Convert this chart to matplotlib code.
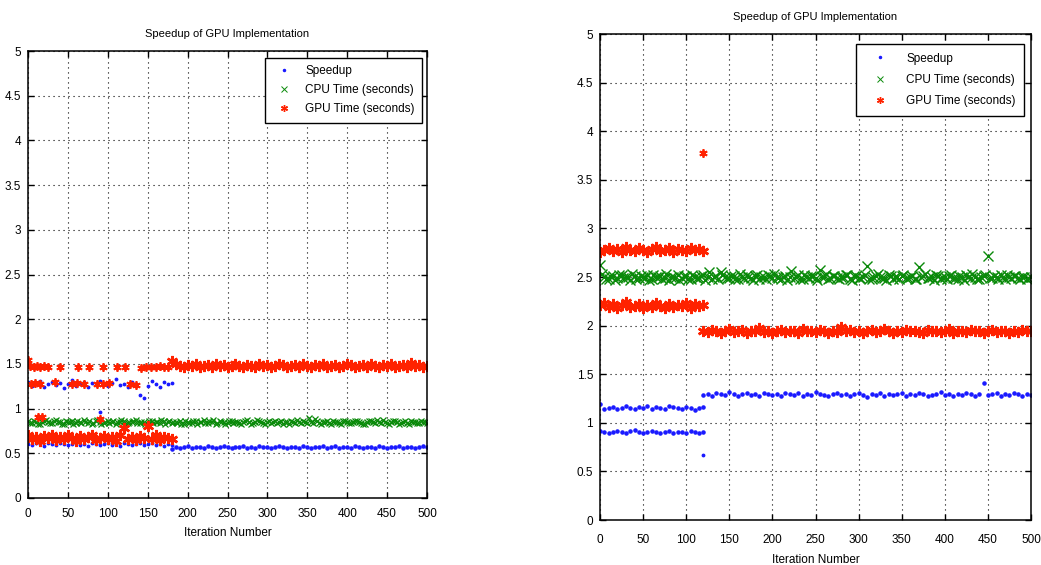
import numpy as np
import matplotlib.pyplot as plt

# ---------------------------------------------------------
# LEFT PANEL DATA (sampled every 5 iterations)
# ---------------------------------------------------------
L_ITER_ALL = list(range(0, 501, 5))
L_ITER_ALL2 = list(range(2, 500, 5))
L_ITER_A = list(range(0, 181, 5))
L_ITER_B = list(range(180, 501, 5))

L_CPU = [0.86, 0.84, 0.85, 0.83, 0.86, 0.85, 0.84, 0.87, 0.85, 0.83,
         0.85, 0.86, 0.84, 0.85, 0.87, 0.84, 0.83, 0.86, 0.85, 0.84,
         0.86, 0.85, 0.83, 0.85, 0.86, 0.84, 0.85, 0.87, 0.84, 0.85,
         0.83, 0.86, 0.85, 0.84, 0.86, 0.85, 0.84, 0.85, 0.86, 0.83,
         0.85, 0.84, 0.86, 0.85, 0.87, 0.84, 0.85, 0.83, 0.86, 0.85,
         0.84, 0.86, 0.85, 0.84, 0.85, 0.87, 0.83, 0.85, 0.86, 0.84,
         0.85, 0.84, 0.86, 0.85, 0.83, 0.85, 0.86, 0.84, 0.85, 0.86,
         0.84, 0.85, 0.88, 0.84, 0.85, 0.86, 0.83, 0.85, 0.84, 0.86,
         0.85, 0.84, 0.86, 0.85, 0.83, 0.85, 0.86, 0.84, 0.85, 0.87,
         0.84, 0.85, 0.86, 0.83, 0.85, 0.84, 0.86, 0.85, 0.84, 0.85, 0.84]
L_CPU2 = [0.84, 0.86, 0.83, 0.85, 0.87, 0.84, 0.86, 0.85, 0.83, 0.86,
          0.85, 0.83, 0.86, 0.84, 0.85, 0.86, 0.84, 0.87, 0.83, 0.85,
          0.84, 0.86, 0.85, 0.87, 0.83, 0.85, 0.86, 0.84, 0.85, 0.83,
          0.86, 0.84, 0.85, 0.87, 0.83, 0.86, 0.85, 0.84, 0.83, 0.86,
          0.84, 0.86, 0.83, 0.85, 0.84, 0.86, 0.87, 0.84, 0.85, 0.83,
          0.86, 0.84, 0.85, 0.83, 0.86, 0.85, 0.84, 0.87, 0.85, 0.83,
          0.86, 0.85, 0.84, 0.86, 0.85, 0.83, 0.85, 0.87, 0.84, 0.85,
          0.89, 0.84, 0.86, 0.83, 0.85, 0.84, 0.86, 0.85, 0.83, 0.86,
          0.84, 0.85, 0.86, 0.84, 0.83, 0.86, 0.85, 0.87, 0.84, 0.85,
          0.83, 0.86, 0.85, 0.84, 0.86, 0.83, 0.85, 0.84, 0.86, 0.85]

L_GPU_LO = [0.70, 0.66, 0.68, 0.64, 0.69, 0.67, 0.71, 0.65, 0.68, 0.66,
            0.70, 0.67, 0.64, 0.69, 0.66, 0.68, 0.71, 0.65, 0.67, 0.69,
            0.66, 0.68, 0.64, 0.70, 0.78, 0.66, 0.68, 0.65, 0.69, 0.67,
            0.80, 0.66, 0.70, 0.65, 0.68, 0.67, 0.66]

L_GPU_HI = [1.53, 1.50, 1.48, 1.47, 1.49, 1.48, 1.50, 1.47, 1.48, 1.49,
            1.47, 1.50, 1.48, 1.49, 1.47, 1.48, 1.50, 1.48, 1.47, 1.49,
            1.48, 1.47, 1.50, 1.48, 1.49, 1.47, 1.48, 1.50, 1.49, 1.47,
            1.48, 1.49, 1.47, 1.50, 1.48, 1.47, 1.49, 1.48, 1.50, 1.47,
            1.48, 1.49, 1.47, 1.48, 1.50, 1.49, 1.47, 1.48, 1.49, 1.47,
            1.50, 1.48, 1.47, 1.49, 1.48, 1.50, 1.47, 1.48, 1.49, 1.47,
            1.51, 1.48, 1.49, 1.47, 1.48]

# scattered GPU points in the first 180 iterations
L_GPU_UP_X = [0, 3, 7, 11, 15, 20, 25, 40, 63, 76, 94, 111, 122, 142, 148, 154, 160, 165, 170, 175]
L_GPU_UP_Y = [1.54, 1.48, 1.47, 1.48, 1.47, 1.48, 1.46, 1.46, 1.46, 1.47,
              1.46, 1.47, 1.46, 1.45, 1.46, 1.47, 1.46, 1.48, 1.47, 1.46]
L_GPU_MID_X = [4, 9, 15, 34, 55, 62, 70, 86, 94, 102, 128, 135]
L_GPU_MID_Y = [1.28, 1.29, 1.27, 1.30, 1.27, 1.29, 1.28, 1.28, 1.27, 1.29, 1.28, 1.26]
L_GPU_OUT_X = [13, 18, 90]
L_GPU_OUT_Y = [0.91, 0.91, 0.88]

L_SPD_UP = [1.30, 1.25, 1.28, 1.31, 1.24, 1.27, 1.30, 1.26, 1.29, 1.23,
            1.28, 1.32, 1.25, 1.27, 1.30, 1.24, 1.29, 1.26, 1.31, 1.27,
            1.25, 1.29, 1.33, 1.26, 1.28, 1.24, 1.30, 1.27, 1.15, 1.12,
            1.25, 1.31, 1.28, 1.24, 1.30, 1.27, 1.29]
L_SPD_LO0 = [0.60, 0.59, 0.61, 0.60, 0.58, 0.61, 0.60, 0.59, 0.61, 0.60,
             0.59, 0.60, 0.61, 0.59, 0.60, 0.58, 0.61, 0.60, 0.59, 0.60,
             0.61, 0.59, 0.60, 0.58, 0.61, 0.60, 0.59, 0.60, 0.61, 0.59,
             0.60, 0.61, 0.59, 0.60, 0.58, 0.60, 0.59]
L_SPD_LO1 = [0.55, 0.57, 0.56, 0.57, 0.58, 0.56, 0.57, 0.57, 0.56, 0.58,
             0.57, 0.56, 0.57, 0.58, 0.57, 0.56, 0.57, 0.57, 0.58, 0.56,
             0.57, 0.56, 0.58, 0.57, 0.57, 0.56, 0.57, 0.58, 0.57, 0.56,
             0.57, 0.57, 0.56, 0.58, 0.57, 0.56, 0.57, 0.57, 0.58, 0.56,
             0.57, 0.58, 0.56, 0.57, 0.57, 0.56, 0.58, 0.57, 0.56, 0.57,
             0.57, 0.56, 0.58, 0.57, 0.56, 0.57, 0.57, 0.58, 0.56, 0.57,
             0.57, 0.56, 0.57, 0.58, 0.57]
L_SPD_OUT_X = [90]
L_SPD_OUT_Y = [0.96]

# ---------------------------------------------------------
# RIGHT PANEL DATA (sampled every 5 iterations)
# ---------------------------------------------------------
R_ITER_ALL = list(range(0, 501, 5))
R_ITER_ALL2 = list(range(2, 500, 5))
R_ITER_A = list(range(0, 121, 5))
R_ITER_B = list(range(120, 501, 5))

R_CPU = [2.62, 2.50, 2.48, 2.51, 2.49, 2.52, 2.50, 2.47, 2.51, 2.49,
         2.50, 2.52, 2.48, 2.50, 2.51, 2.49, 2.47, 2.50, 2.52, 2.49,
         2.51, 2.48, 2.50, 2.49, 2.52, 2.50, 2.48, 2.51, 2.55, 2.50,
         2.49, 2.51, 2.48, 2.50, 2.52, 2.49, 2.51, 2.48, 2.50, 2.52,
         2.49, 2.50, 2.48, 2.51, 2.50, 2.49, 2.52, 2.48, 2.50, 2.51,
         2.49, 2.57, 2.50, 2.48, 2.51, 2.49, 2.50, 2.52, 2.48, 2.51,
         2.49, 2.50, 2.61, 2.48, 2.51, 2.50, 2.49, 2.52, 2.48, 2.50,
         2.51, 2.49, 2.50, 2.48, 2.60, 2.51, 2.49, 2.50, 2.52, 2.48,
         2.50, 2.51, 2.49, 2.48, 2.50, 2.52, 2.49, 2.50, 2.48, 2.51,
         2.72, 2.49, 2.50, 2.52, 2.48, 2.50, 2.51, 2.49, 2.50, 2.48, 2.50]
R_CPU2 = [2.53, 2.48, 2.51, 2.47, 2.52, 2.49, 2.50, 2.53, 2.48, 2.51,
          2.49, 2.47, 2.52, 2.50, 2.48, 2.53, 2.50, 2.49, 2.47, 2.51,
          2.48, 2.52, 2.49, 2.51, 2.47, 2.55, 2.50, 2.48, 2.52, 2.49,
          2.51, 2.48, 2.53, 2.49, 2.50, 2.47, 2.52, 2.50, 2.48, 2.51,
          2.53, 2.49, 2.50, 2.47, 2.56, 2.50, 2.48, 2.52, 2.49, 2.51,
          2.47, 2.50, 2.53, 2.49, 2.51, 2.48, 2.50, 2.52, 2.47, 2.51,
          2.49, 2.52, 2.48, 2.50, 2.53, 2.49, 2.47, 2.51, 2.50, 2.48,
          2.52, 2.49, 2.51, 2.48, 2.50, 2.53, 2.49, 2.47, 2.51, 2.50,
          2.48, 2.52, 2.49, 2.51, 2.47, 2.50, 2.53, 2.48, 2.50, 2.52,
          2.49, 2.51, 2.48, 2.50, 2.52, 2.49, 2.51, 2.48, 2.50, 2.49]

R_GPU_A = [2.76, 2.78, 2.80, 2.77, 2.79, 2.76, 2.81, 2.78, 2.77, 2.80,
           2.78, 2.76, 2.79, 2.81, 2.77, 2.78, 2.80, 2.76, 2.79, 2.78,
           2.77, 2.80, 2.78, 2.79, 2.77]
R_GPU_B = [2.21, 2.23, 2.19, 2.22, 2.18, 2.21, 2.24, 2.19, 2.20, 2.22,
           2.18, 2.21, 2.19, 2.23, 2.20, 2.18, 2.22, 2.19, 2.21, 2.20,
           2.23, 2.18, 2.22, 2.20, 2.21]
R_GPU_C = [1.95, 1.93, 1.96, 1.94, 1.92, 1.95, 1.97, 1.93, 1.94, 1.96,
           1.92, 1.95, 1.94, 1.98, 1.93, 1.95, 1.92, 1.94, 1.96, 1.93,
           1.95, 1.94, 1.92, 1.97, 1.94, 1.95, 1.93, 1.96, 1.94, 1.92,
           1.95, 1.93, 1.99, 1.94, 1.96, 1.93, 1.95, 1.92, 1.94, 1.96,
           1.93, 1.95, 1.97, 1.94, 1.92, 1.95, 1.93, 1.96, 1.94, 1.95,
           1.93, 1.92, 1.96, 1.94, 1.95, 1.93, 1.94, 1.97, 1.92, 1.95,
           1.94, 1.93, 1.96, 1.94, 1.95, 1.92, 1.94, 1.96, 1.93, 1.95,
           1.94, 1.92, 1.95, 1.93, 1.96, 1.94, 1.94]
R_GPU_OUT_X = [120]
R_GPU_OUT_Y = [3.78]

R_SPD_A = [1.19, 1.14, 1.15, 1.16, 1.14, 1.15, 1.17, 1.15, 1.14, 1.16,
           1.15, 1.17, 1.14, 1.16, 1.15, 1.14, 1.17, 1.16, 1.15, 1.14,
           1.16, 1.15, 1.13, 1.15, 1.16]
R_SPD_B = [0.92, 0.91, 0.90, 0.91, 0.92, 0.91, 0.90, 0.92, 0.93, 0.91,
           0.90, 0.91, 0.92, 0.91, 0.90, 0.91, 0.92, 0.90, 0.91, 0.91,
           0.90, 0.92, 0.91, 0.90, 0.91]
R_SPD_C = [1.29, 1.30, 1.28, 1.31, 1.30, 1.29, 1.32, 1.30, 1.28, 1.30,
           1.31, 1.29, 1.30, 1.28, 1.31, 1.30, 1.29, 1.30, 1.28, 1.31,
           1.30, 1.29, 1.31, 1.28, 1.30, 1.29, 1.32, 1.30, 1.29, 1.28,
           1.30, 1.31, 1.29, 1.30, 1.28, 1.30, 1.31, 1.29, 1.27, 1.30,
           1.29, 1.31, 1.28, 1.30, 1.29, 1.30, 1.31, 1.28, 1.30, 1.29,
           1.31, 1.30, 1.28, 1.29, 1.30, 1.32, 1.29, 1.30, 1.28, 1.30,
           1.29, 1.31, 1.30, 1.28, 1.30, 1.41, 1.29, 1.30, 1.31, 1.28,
           1.30, 1.29, 1.31, 1.30, 1.28, 1.30, 1.29]
R_SPD_OUT_X = [120]
R_SPD_OUT_Y = [0.67]

TICKS_X = [0, 50, 100, 150, 200, 250, 300, 350, 400, 450, 500]
TICKS_Y = [0, 0.5, 1, 1.5, 2, 2.5, 3, 3.5, 4, 4.5, 5]
TICK_LABELS_Y = ["0", "0.5", "1", "1.5", "2", "2.5", "3", "3.5", "4", "4.5", "5"]
LEGEND_LABELS = ["Speedup", "CPU Time (seconds)", "GPU Time (seconds)"]

BLUE = "#1a1aff"
GREEN = "#0a8a0a"
RED = "#ff2200"
GPU_MARKER = (6, 2, 0)

plt.rcParams['font.family'] = ['Liberation Sans', 'DejaVu Sans']
plt.rcParams['font.size'] = 8

# dense bands use bigger marks, scattered points smaller ones
spd_kw = dict(linestyle="none", marker=".", color=BLUE, markersize=4.5)
cpu_kw = dict(linestyle="none", marker="x", color=GREEN, markersize=5, markeredgewidth=0.9)
cpu_kw_r = dict(linestyle="none", marker="x", color=GREEN, markersize=6.5, markeredgewidth=1.0)
gpu_kw = dict(linestyle="none", marker=GPU_MARKER, color=RED, markersize=8, markeredgewidth=1.8)
spd_pt = dict(linestyle="none", marker=".", color=BLUE, markersize=3.5)
gpu_pt = dict(linestyle="none", marker=GPU_MARKER, color=RED, markersize=6, markeredgewidth=1.3)


def style_axes(ax, tick_pad, title_pad, label_pad):
    ax.set_xlim(0, 500)
    ax.set_ylim(0, 5)
    ax.set_xticks(TICKS_X)
    ax.set_yticks(TICKS_Y)
    ax.set_yticklabels(TICK_LABELS_Y)
    ax.grid(True, color="black", linestyle=(0, (1, 3.5)), linewidth=0.8)
    ax.tick_params(direction="in", top=True, right=True, length=4, width=1,
                   labelsize=8.5)
    ax.tick_params(axis="x", pad=tick_pad)
    ax.tick_params(axis="y", pad=5)
    for s in ax.spines.values():
        s.set_linewidth(1.1)
    ax.set_title("Speedup of GPU Implementation", fontsize=8, pad=title_pad)
    ax.set_xlabel("Iteration Number", fontsize=8.5, labelpad=label_pad)


def add_legend(ax, anchor, spacing, bpad, hlen):
    h1, = ax.plot([], [], linestyle="none", marker=".", color=BLUE, markersize=3)
    h2, = ax.plot([], [], linestyle="none", marker="x", color=GREEN, markersize=4, markeredgewidth=0.7)
    h3, = ax.plot([], [], linestyle="none", marker=GPU_MARKER, color=RED, markersize=5, markeredgewidth=1.0)
    leg = ax.legend([h1, h2, h3], LEGEND_LABELS, loc="upper right", bbox_to_anchor=anchor,
                    fontsize=8.5, frameon=True, fancybox=False, framealpha=1,
                    edgecolor="black", handlelength=hlen, handletextpad=0.8,
                    borderpad=bpad, labelspacing=spacing, borderaxespad=0)
    leg.get_frame().set_linewidth(1.0)


fig = plt.figure(figsize=(10.41, 5.65), dpi=100)

# LEFT
ax1 = fig.add_axes([0.0269, 0.1186, 0.3833, 0.791])
ax1.plot(L_ITER_A, L_SPD_UP, **spd_pt)
ax1.plot(L_ITER_A, L_SPD_LO0, **spd_pt)
ax1.plot(L_ITER_B, L_SPD_LO1, **spd_kw)
ax1.plot(L_SPD_OUT_X, L_SPD_OUT_Y, **spd_pt)
ax1.plot(L_ITER_ALL, L_CPU, **cpu_kw)
ax1.plot(L_ITER_ALL2, L_CPU2, **cpu_kw)
ax1.plot(L_ITER_A, L_GPU_LO, **gpu_kw)
ax1.plot(L_ITER_B, L_GPU_HI, **gpu_kw)
ax1.plot(L_GPU_UP_X, L_GPU_UP_Y, **gpu_pt)
ax1.plot(L_GPU_MID_X, L_GPU_MID_Y, **gpu_pt)
ax1.plot(L_GPU_OUT_X, L_GPU_OUT_Y, **gpu_pt)
style_axes(ax1, 7, 10, 5)
add_legend(ax1, (0.987, 0.984), 0.6, 0.6, 2.0)

# RIGHT
ax2 = fig.add_axes([0.5764, 0.0796, 0.414, 0.860])
ax2.plot(R_ITER_A, R_SPD_A, **spd_kw)
ax2.plot(R_ITER_A, R_SPD_B, **spd_kw)
ax2.plot(R_ITER_B, R_SPD_C, **spd_kw)
ax2.plot(R_SPD_OUT_X, R_SPD_OUT_Y, **spd_pt)
ax2.plot(R_ITER_ALL, R_CPU, **cpu_kw_r)
ax2.plot(R_ITER_ALL2, R_CPU2, **cpu_kw_r)
ax2.plot(R_ITER_A, R_GPU_A, **gpu_kw)
ax2.plot(R_ITER_A, R_GPU_B, **gpu_kw)
ax2.plot(R_ITER_B, R_GPU_C, **gpu_kw)
ax2.plot(R_GPU_OUT_X, R_GPU_OUT_Y, **gpu_pt)
style_axes(ax2, 10, 10, 6)
add_legend(ax2, (0.984, 0.979), 0.8, 0.7, 2.8)

plt.savefig("out.png", dpi=100)
